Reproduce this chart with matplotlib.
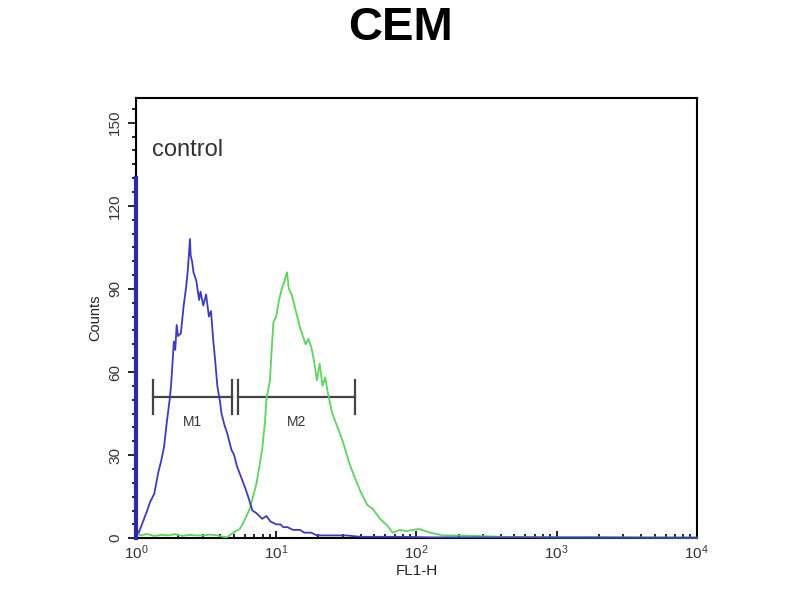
import numpy as np
import matplotlib as mpl
mpl.use("Agg")
from matplotlib import pyplot as plt
from matplotlib.ticker import MultipleLocator, LogLocator, NullFormatter

mpl.rc('font', family=['Liberation Sans', 'DejaVu Sans'])
mpl.rc('mathtext', default='regular')

# Control histogram (blue), positions in log10(FL1-H)
blue_log = [0.00, 0.005, 0.02, 0.05, 0.08, 0.10, 0.13, 0.16, 0.18, 0.20,
            0.22, 0.24, 0.25, 0.26, 0.27, 0.28, 0.29, 0.30, 0.32, 0.34,
            0.356, 0.37, 0.385, 0.39, 0.40, 0.41, 0.43, 0.45, 0.46, 0.48,
            0.50, 0.52, 0.535, 0.55, 0.565, 0.58, 0.60, 0.61, 0.63, 0.65,
            0.68, 0.70, 0.72, 0.75, 0.78, 0.80, 0.83, 0.86, 0.90, 0.93,
            0.96, 1.00, 1.03, 1.05, 1.08, 1.12, 1.15, 1.17, 1.20, 1.25,
            1.29, 1.33, 1.40, 1.50, 1.60, 1.75, 1.90, 2.10, 2.40, 2.80,
            3.20, 3.60, 4.00]
blue_counts = [130, 3, 2, 6, 10, 13, 16, 24, 28, 33,
               42, 50, 55, 63, 71, 68, 77, 73, 74, 84,
               90, 97, 108, 102, 100, 96, 93, 86, 89, 84,
               88, 80, 82, 72, 64, 55, 49, 45, 41, 38,
               32, 30, 26, 22, 18, 15, 10, 9, 7, 8,
               6, 5, 5, 4, 4, 3, 3, 3, 2, 2,
               1, 1, 1, 1, 0.5, 0.5, 0.5, 0.3, 0.3, 0.3,
               0.3, 0.2, 0.2]

# Stained sample histogram (green)
green_log = [0.00, 0.005, 0.03, 0.08, 0.13, 0.18, 0.23, 0.28, 0.33, 0.38,
             0.43, 0.48, 0.53, 0.58, 0.62, 0.65, 0.68, 0.71, 0.74, 0.77,
             0.81, 0.84, 0.86, 0.88, 0.90, 0.92, 0.93, 0.955, 0.97, 0.98,
             1.00, 1.02, 1.04, 1.06, 1.077, 1.09, 1.11, 1.13, 1.15, 1.17,
             1.19, 1.21, 1.23, 1.25, 1.27, 1.29, 1.31, 1.33, 1.35, 1.37,
             1.40, 1.43, 1.475, 1.525, 1.56, 1.60, 1.65, 1.69, 1.74, 1.79,
             1.83, 1.88, 1.93, 1.97, 2.02, 2.10, 2.19, 2.30, 2.45, 2.60,
             2.80, 3.00, 3.30, 3.60, 4.00]
green_counts = [6, 2, 1, 1.5, 0.8, 1.2, 1, 1.5, 0.8, 1.2,
                1, 1, 1.3, 1, 0.5, 0.4, 1.5, 2.5, 3.3, 6,
                10.5, 16, 20, 26, 32, 42, 50, 57, 70, 78,
                80, 86, 90, 93, 96, 90, 88, 84, 80, 76,
                73, 70, 72, 69, 64, 57, 63, 55, 58, 52,
                45, 41, 35, 26.5, 22, 17, 12, 10.5, 7, 4.7,
                2, 3, 2.5, 3, 3.3, 2, 1, 1, 0.8, 0.5,
                0.4, 0.3, 0.3, 0.3, 0.2]

# Gate markers: name, start, end, height
markers = [("M1", 1.32, 4.84, 51), ("M2", 5.33, 36.4, 51)]

fig = plt.figure(figsize=(8, 6), dpi=100)
ax = fig.add_axes([0.17, 0.103, 0.701, 0.734])

ax.plot(10 ** np.array(green_log), green_counts, color='#5cd65c', lw=1.3,
        zorder=3, clip_on=False)
ax.plot(10 ** np.array(blue_log), blue_counts, color='#3c3cc0', lw=1.3,
        zorder=3.1, clip_on=False)
# thick blue spike on the left edge
ax.plot([1, 1], [0, blue_counts[0]], color='#2a2aa8', lw=3, zorder=3.2,
        clip_on=False)

for name, x0, x1, h in markers:
    ax.plot([x0, x1], [h, h], color='#444444', lw=1.6)
    ax.plot([x0, x0], [h - 6, h + 6], color='#444444', lw=1.6)
    ax.plot([x1, x1], [h - 6, h + 6], color='#444444', lw=1.6)
    ax.text(np.sqrt(x0 * x1), h - 6.5, name, ha='center', va='top',
            fontsize=10, color='#333333')

ax.text(1.3, 140, "control", fontsize=17, color='#333333', va='center')

ax.set_xscale('log')
ax.set_xlim(1, 1e4)
ax.set_ylim(0, 159)
ax.set_xticks([1, 10, 100, 1000, 10000])
ax.set_xticklabels(['$10^{0}$', '$10^{1}$', '$10^{2}$', '$10^{3}$', '$10^{4}$'])
ax.xaxis.set_minor_locator(LogLocator(base=10, subs=np.arange(2, 10)))
ax.xaxis.set_minor_formatter(NullFormatter())
ax.set_yticks([0, 30, 60, 90, 120, 150])
ax.yaxis.set_minor_locator(MultipleLocator(5))
ax.tick_params(axis='x', which='major', direction='in', length=5, width=1.2,
               labelsize=11, labelcolor='#333333', pad=4)
ax.tick_params(axis='x', which='minor', direction='in', length=3, width=1.2)
ax.tick_params(axis='y', which='major', direction='out', length=6, width=1.2,
               labelsize=11, labelcolor='#333333', labelrotation=90, pad=4)
ax.tick_params(axis='y', which='minor', direction='out', length=3, width=1.2)
for lbl in ax.get_yticklabels():
    lbl.set_va('center')
for sp in ax.spines.values():
    sp.set_linewidth(1.5)

ax.set_xlabel("FL1-H", fontsize=11, color='#222222', labelpad=1)
ax.set_ylabel("Counts", fontsize=10.5, color='#222222', labelpad=4)
fig.suptitle("CEM", fontsize=34, fontweight='bold', y=0.99)

fig.savefig("out.png", dpi=100)
